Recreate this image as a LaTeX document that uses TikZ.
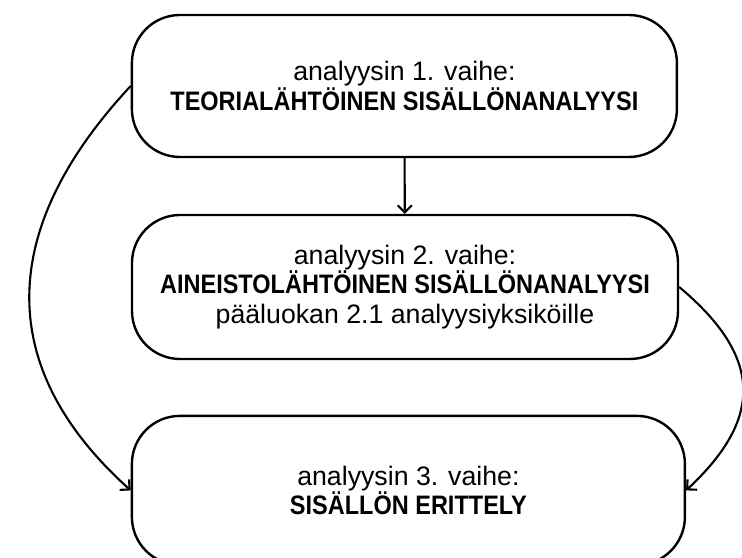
\documentclass[tikz,border=0pt]{standalone}
\usepackage{fontspec}
\setmainfont{Liberation Sans}
\newfontfamily\otsikkofont{Liberation Sans}[FakeStretch=0.88]
\usetikzlibrary{arrows.meta, positioning}
\newcommand{\vaiheotsikko}[1]{{\otsikkofont\fontsize{19}{21}\selectfont\bfseries #1}}

\begin{document}
\begin{tikzpicture}[
  x=1cm, y=1cm,
  vaihe/.style={draw, line width=1.7pt, rounded corners=1.2cm, align=center, font=\fontsize{19}{21}\selectfont, inner sep=1mm},
  arr/.style={-{Straight Barb[length=5pt,width=10pt]}, line width=1.5pt}
]
\useasboundingbox (0,0) rectangle (18.55,13.95);
\node[vaihe, minimum width=13.625cm, minimum height=3.55cm] (v1) at (10.11,11.8) {analyysin 1. vaihe:\\ \vaiheotsikko{TEORIALÄHTÖINEN SISÄLLÖNANALYYSI}};
\node[vaihe, minimum width=13.65cm, minimum height=3.6cm] (v2) at (10.125,6.775) {analyysin 2. vaihe:\\ \vaiheotsikko{AINEISTOLÄHTÖINEN SISÄLLÖNANALYYSI}\\ pääluokan 2.1 analyysiyksiköille};
\node[vaihe, minimum width=13.825cm, minimum height=3.725cm] (v3) at (10.21,1.69) {analyysin 3. vaihe:\\ \vaiheotsikko{SISÄLLÖN ERITTELY}};

\draw[arr] (v1) -- (v2);
\draw[arr] (v1.west) to[out=227, in=138, looseness=1.2] (v3.west);
\draw[arr] (v2.east) to[out=-40, in=43, looseness=1.35] (v3.east);
\end{tikzpicture}
\end{document}
